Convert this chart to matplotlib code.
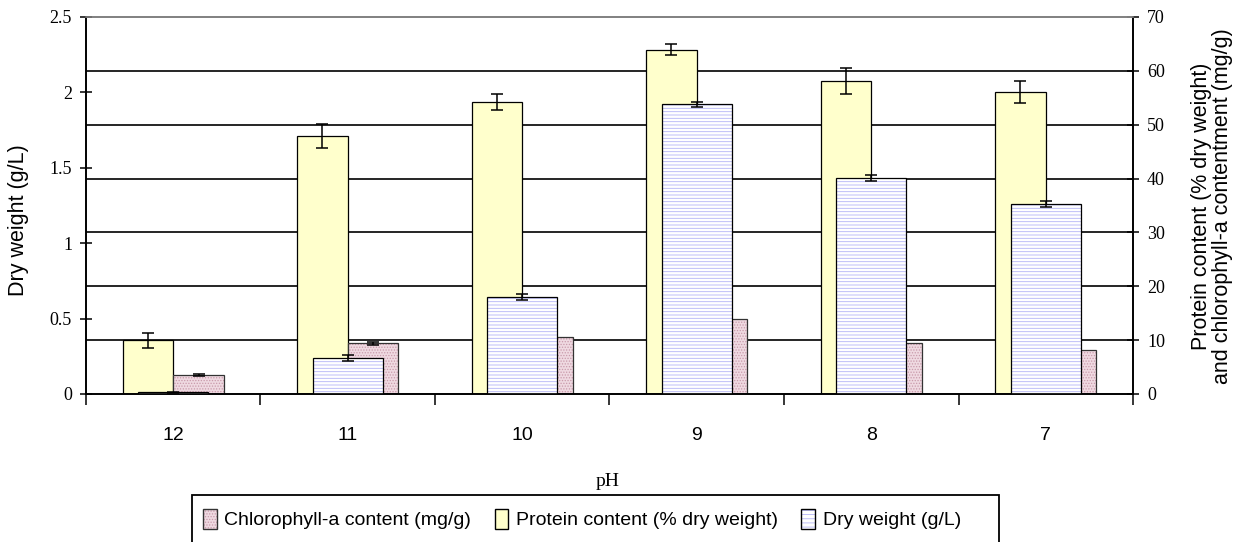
import numpy as np
import matplotlib
matplotlib.use("Agg")
import matplotlib.pyplot as plt
import matplotlib.patches as mpatches

plt.rcParams["hatch.linewidth"] = 0.6

ph = ["12", "11", "10", "9", "8", "7"]
dry_weight = [0.01, 0.237, 0.64, 1.92, 1.435, 1.26]
dry_weight_err = [0.005, 0.02, 0.02, 0.017, 0.02, 0.02]
protein = [10.0, 47.9, 54.2, 63.9, 58.1, 56.1]
protein_err = [1.4, 2.3, 1.55, 1.0, 2.35, 2.0]
chlorophyll = [3.5, 9.4, 10.5, 14.0, 9.4, 8.2]
chlorophyll_err = [0.15, 0.3, 0.0, 0.0, 0.0, 0.0]

SERIF = "Liberation Serif"
SANS = "Liberation Sans"

YELLOW = "#ffffcc"
PINK = "#efd9e1"
PINK_HATCH = "#c99aab"
BLUE_HATCH = "#b4b4f6"

fig = plt.figure(figsize=(12.44, 5.42), dpi=100)
ax_r = fig.add_axes([0.0691, 0.2731, 0.8417, 0.6956])
ax_l = ax_r.twinx()
ax_l.yaxis.tick_left()
ax_l.yaxis.set_label_position("left")
ax_r.yaxis.tick_right()
ax_r.yaxis.set_label_position("right")

x = np.arange(len(ph))
w_side = 0.29
off = 0.145
w_dry = 0.40

# secondary-scale series (behind)
ax_r.bar(x - off, protein, w_side, color=YELLOW, edgecolor="black",
         linewidth=0.9, zorder=2)
ax_r.errorbar(x - off, protein, yerr=protein_err, fmt="none", ecolor="black",
              elinewidth=1.1, capsize=4.5, capthick=1.1, zorder=3)
ax_r.bar(x + off, chlorophyll, w_side, color=PINK, edgecolor=PINK_HATCH,
         hatch="......", linewidth=0, zorder=2)
ax_r.bar(x + off, chlorophyll, w_side, fill=False, edgecolor="#333333",
         linewidth=0.9, zorder=2)
ax_r.errorbar(x + off, chlorophyll, yerr=chlorophyll_err, fmt="none",
              ecolor="black", elinewidth=1.1, capsize=4.5, capthick=1.1, zorder=3)

# dry weight on the left scale (front)
ax_l.bar(x, dry_weight, w_dry, color="white", edgecolor=BLUE_HATCH,
         hatch="-----", linewidth=0, zorder=2)
ax_l.bar(x, dry_weight, w_dry, fill=False, edgecolor="black",
         linewidth=0.9, zorder=2)
ax_l.errorbar(x, dry_weight, yerr=dry_weight_err, fmt="none", ecolor="black",
              elinewidth=1.1, capsize=4.5, capthick=1.1, zorder=3)

ax_r.set_xlim(-0.5, len(ph) - 0.5)
ax_r.set_ylim(0, 70)
ax_l.set_ylim(0, 2.5)

ax_r.set_yticks(np.arange(0, 80, 10))
ax_l.set_yticks([0, 0.5, 1, 1.5, 2, 2.5], labels=["0", "0.5", "1", "1.5", "2", "2.5"])

ax_r.set_xticks(np.arange(-0.5, len(ph), 1), labels=[""] * (len(ph) + 1))
ax_r.set_xticks(x, labels=ph, minor=True)
ax_r.tick_params(axis="x", which="major", direction="out", length=8, width=1.1)
ax_r.tick_params(axis="x", which="minor", length=0, pad=24)
for t in ax_r.get_xticklabels(minor=True):
    t.set_fontfamily(SANS)
    t.set_fontsize(14)

for a in (ax_l, ax_r):
    a.tick_params(axis="y", direction="inout", length=8, width=1.1, pad=6)
    for t in a.get_yticklabels():
        t.set_fontfamily(SERIF)
        t.set_fontsize(13)
    for name, sp in a.spines.items():
        sp.set_linewidth(1.2)
        sp.set_color("#808080" if name == "top" else "black")

ax_r.yaxis.grid(True, color="black", linewidth=1.2)
ax_r.set_axisbelow(True)
gl = ax_r.get_ygridlines()
gl[0].set_visible(False)
gl[-1].set_visible(False)

fig.text(19 / 1244, 1 - 220 / 542, "Dry weight (g/L)", rotation=90,
         ha="center", va="center", family=SANS, fontsize=15.5)
fig.text(1212 / 1244, 1 - 206 / 542,
         "Protein content (% dry weight)\nand chlorophyll-a contentment (mg/g)",
         rotation=90, ha="center", va="center", multialignment="center",
         family=SANS, fontsize=15.5, linespacing=1.0)
fig.text(608 / 1244, 1 - 482 / 542, "pH", ha="center", va="center",
         family=SERIF, fontsize=14)

# legend
fig.add_artist(mpatches.Rectangle(
    (192 / 1244, -0.1), (999 - 192) / 1244, 0.1 + 1 - 495 / 542,
    transform=fig.transFigure, fill=False, edgecolor="black", linewidth=1.3,
))
handles = [
    (mpatches.Patch(facecolor=PINK, edgecolor=PINK_HATCH, hatch="......", linewidth=0),
     mpatches.Patch(fill=False, edgecolor="#333333")),
    mpatches.Patch(facecolor=YELLOW, edgecolor="black"),
    (mpatches.Patch(facecolor="white", edgecolor=BLUE_HATCH, hatch="----", linewidth=0),
     mpatches.Patch(fill=False, edgecolor="black")),
]
labels = ["Chlorophyll-a content (mg/g)", "Protein content (% dry weight)",
          "Dry weight (g/L)"]
fig.legend(handles, labels, loc="center left",
           bbox_to_anchor=(203 / 1244, 1 - 519 / 542), ncol=3, frameon=False,
           handlelength=0.7, handleheight=1.2, handletextpad=0.4,
           columnspacing=1.2, borderpad=0, borderaxespad=0,
           prop={"family": SANS, "size": 14})

fig.savefig("out.png", dpi=100)
